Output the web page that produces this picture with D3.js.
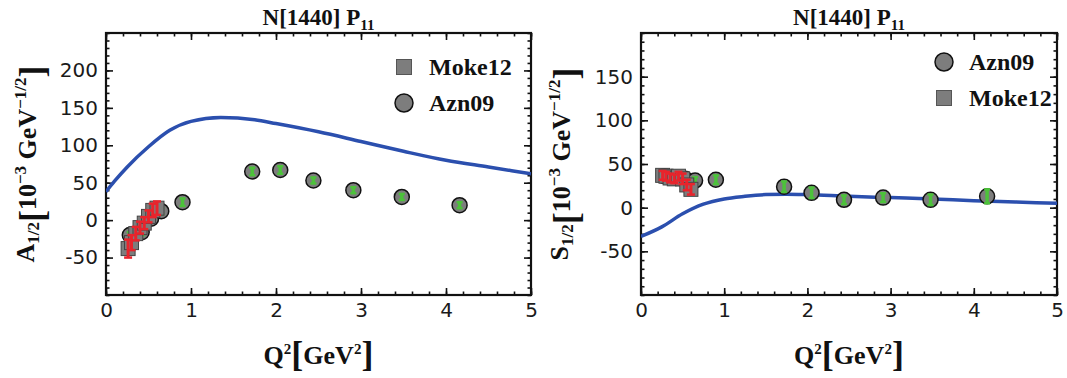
<!DOCTYPE html>
<html>
<head>
<meta charset="utf-8">
<script src="https://cdn.jsdelivr.net/npm/d3@7"></script>
<style>
  body { margin: 0; background: #fff; }
  svg { display: block; }
</style>
</head>
<body>
<div id="chart"></div>
<script>
// ---- data ----
const xTicks = [0, 1, 2, 3, 4, 5];
const yTicksA = [-50, 0, 50, 100, 150, 200];
const yTicksS = [-50, 0, 50, 100, 150];

// Azn09 (CLAS 2009)
const aznQ2 = [0.28, 0.42, 0.53, 0.65, 0.90, 1.72, 2.05, 2.44, 2.91, 3.48, 4.16];
const aznA  = [-20, -16, 2, 12, 24, 65, 67, 53, 40, 31, 20];
const aznAerr = [4, 4, 4, 4, 5, 5, 5, 4, 4, 4, 4];
const aznS  = [36, 34, 33, 31, 32, 24, 17, 9, 11.5, 9, 13];
const aznSerr = [4, 4, 4, 4, 5, 6, 6, 5, 5, 6, 8];

// Moke12
const mokQ2 = [0.26, 0.30, 0.35, 0.40, 0.45, 0.50, 0.55, 0.60];
const mokA  = [-38, -30, -18, -10, -4, 5, 13, 16];
const mokAerr = [12, 10, 9, 8, 8, 8, 9, 9];
const mokS  = [37, 36, 34, 33, 36, 33, 26, 21];
const mokSerr = [5, 5, 5, 5, 5, 6, 6, 6];

// model curves
const curveQ2A = [0, 0.1, 0.25, 0.5, 0.75, 1.0, 1.35, 1.75, 2.0, 2.5, 3.0, 3.5, 4.0, 4.5, 5.0];
const curveA   = [38, 52, 71, 98, 120, 132, 137, 134, 129, 118, 105, 92, 80, 71, 62];
const curveQ2S = [0, 0.25, 0.5, 0.75, 1.0, 1.25, 1.5, 1.75, 2.0, 2.5, 3.0, 3.5, 4.0, 4.5, 5.0];
const curveS   = [-33, -22, -7, 4, 10, 13, 15, 15.5, 15, 13, 11.5, 10, 8, 6.5, 5];

const W = 1067, H = 378;
const serif = "'Liberation Serif', 'Times New Roman', serif";
const sans = "'DejaVu Sans', Verdana, sans-serif";
const blue = "#2b4fae";
const green = "#4cc23a";
const red = "#e8242c";
const grey = "#7d7d7d";

const svg = d3.select("#chart").append("svg")
    .attr("width", W)
    .attr("height", H);

function zip(xs, ys, es) {
    return xs.map((x, i) => ({x: x, y: ys[i], e: es ? es[i] : 0}));
}

function drawPanel(p) {
    let x = d3.scaleLinear().domain([0, 5]).range([p.left, p.right]);
    let y = d3.scaleLinear().domain(p.yDomain).range([p.bottom, p.top]);

    let g = svg.append("g");

    // clip for data
    let clipId = "clip" + p.id;
    svg.append("clipPath").attr("id", clipId)
        .append("rect")
        .attr("x", p.left).attr("y", p.top)
        .attr("width", p.right - p.left).attr("height", p.bottom - p.top);

    // ticks - major and minor, on all four sides, pointing inwards
    let minorX = d3.range(0, 5.001, 0.2);
    let minorY = d3.range(p.yDomain[0], p.yDomain[1] + 0.01, 10);

    let axes = [
        {ax: d3.axisBottom(x).tickValues(xTicks), tr: [0, p.bottom], lab: true},
        {ax: d3.axisTop(x).tickValues(xTicks), tr: [0, p.top], lab: false},
        {ax: d3.axisLeft(y).tickValues(p.yTicks), tr: [p.left, 0], lab: true},
        {ax: d3.axisRight(y).tickValues(p.yTicks), tr: [p.right, 0], lab: false}
    ];
    axes.forEach(a => {
        let ag = g.append("g")
            .attr("transform", "translate(" + a.tr[0] + "," + a.tr[1] + ")")
            .call(a.ax.tickSizeInner(-7).tickSizeOuter(0).tickPadding(8)
                .tickFormat(a.lab ? (d => d) : ""));
        ag.select(".domain").remove();
        ag.selectAll("line").attr("stroke", "#111").attr("stroke-width", 1.6);
        ag.selectAll("text")
            .attr("font-family", sans)
            .attr("font-size", 20)
            .attr("fill", "#1a1a1a");
    });

    let minors = [
        {ax: d3.axisBottom(x).tickValues(minorX), tr: [0, p.bottom]},
        {ax: d3.axisTop(x).tickValues(minorX), tr: [0, p.top]},
        {ax: d3.axisLeft(y).tickValues(minorY), tr: [p.left, 0]},
        {ax: d3.axisRight(y).tickValues(minorY), tr: [p.right, 0]}
    ];
    minors.forEach(a => {
        let ag = g.append("g")
            .attr("transform", "translate(" + a.tr[0] + "," + a.tr[1] + ")")
            .call(a.ax.tickSizeInner(-3.5).tickSizeOuter(0).tickFormat(""));
        ag.select(".domain").remove();
        ag.selectAll("line").attr("stroke", "#111").attr("stroke-width", 1.6);
    });

    // frame
    g.append("rect")
        .attr("x", p.left).attr("y", p.top)
        .attr("width", p.right - p.left).attr("height", p.bottom - p.top)
        .attr("fill", "none")
        .attr("stroke", "#111")
        .attr("stroke-width", 2.2);

    let data = g.append("g").attr("clip-path", "url(#" + clipId + ")");

    // model curve
    data.append("path")
        .datum(zip(p.curveX, p.curveY))
        .attr("fill", "none")
        .attr("stroke", blue)
        .attr("stroke-width", 3.5)
        .attr("d", d3.line().x(d => x(d.x)).y(d => y(d.y)).curve(d3.curveMonotoneX));

    function errorBars(sel, pts, color, w, cap) {
        sel.selectAll(null).data(pts).enter().append("line")
            .attr("x1", d => x(d.x)).attr("x2", d => x(d.x))
            .attr("y1", d => y(d.y - d.e)).attr("y2", d => y(d.y + d.e))
            .attr("stroke", color).attr("stroke-width", w);
        [-1, 1].forEach(s => {
            sel.selectAll(null).data(pts).enter().append("line")
                .attr("x1", d => x(d.x) - cap).attr("x2", d => x(d.x) + cap)
                .attr("y1", d => y(d.y + s * d.e)).attr("y2", d => y(d.y + s * d.e))
                .attr("stroke", color).attr("stroke-width", 2.5);
        });
    }

    let azn = zip(aznQ2, p.aznY, p.aznE);
    let mok = zip(mokQ2, p.mokY, p.mokE);

    data.selectAll(null).data(azn).enter().append("circle")
        .attr("cx", d => x(d.x)).attr("cy", d => y(d.y))
        .attr("r", 7.5)
        .attr("fill", grey)
        .attr("stroke", "#111")
        .attr("stroke-width", 1.5);
    errorBars(data, azn, green, 3.5, 3);

    data.selectAll(null).data(mok).enter().append("rect")
        .attr("x", d => x(d.x) - 7).attr("y", d => y(d.y) - 7)
        .attr("width", 14).attr("height", 14)
        .attr("fill", grey)
        .attr("stroke", "#444")
        .attr("stroke-width", 1);
    errorBars(data, mok, red, 3, 4);

    // title
    let t = svg.append("text")
        .attr("x", (p.left + p.right) / 2)
        .attr("y", 25)
        .attr("text-anchor", "middle")
        .attr("font-family", serif)
        .attr("font-weight", "bold")
        .attr("font-size", 23)
        .attr("fill", "#111");
    t.append("tspan").text("N[1440] P");
    t.append("tspan").attr("font-size", 15).attr("dy", 5).text("11");

    // x label
    let xl = svg.append("text")
        .attr("x", (p.left + p.right) / 2)
        .attr("y", 364)
        .attr("text-anchor", "middle")
        .attr("font-family", serif)
        .attr("font-weight", "bold")
        .attr("font-size", 26)
        .attr("fill", "#111");
    xl.append("tspan").text("Q");
    xl.append("tspan").attr("font-size", 15).attr("dy", -10).text("2");
    xl.append("tspan").attr("font-size", 36).attr("dy", 12).text("[");
    xl.append("tspan").attr("dy", -2).text("GeV");
    xl.append("tspan").attr("font-size", 15).attr("dy", -10).text("2");
    xl.append("tspan").attr("font-size", 36).attr("dy", 12).text("]");

    // y label
    let yl = svg.append("text")
        .attr("transform", "translate(" + p.ylabX + "," + ((p.top + p.bottom) / 2) + ") rotate(-90)")
        .attr("text-anchor", "middle")
        .attr("font-family", serif)
        .attr("font-weight", "bold")
        .attr("font-size", 26)
        .attr("fill", "#111");
    yl.append("tspan").text(p.ylabSym);
    yl.append("tspan").attr("font-size", 17).attr("dy", 5).text("1/2");
    yl.append("tspan").attr("font-size", 36).attr("dy", 5).text("[");
    yl.append("tspan").attr("dy", -8).text("10");
    yl.append("tspan").attr("font-size", 17).attr("dy", -10).text("\u22123");
    yl.append("tspan").attr("dy", 10).text(" GeV");
    yl.append("tspan").attr("font-size", 17).attr("dy", -10).text("\u22121/2");
    yl.append("tspan").attr("font-size", 36).attr("dy", 18).text("]");

    // legend
    let lg = svg.append("g");
    p.legend.forEach((name, i) => {
        let cy = p.legY + i * 36;
        if (name === "Moke12") {
            lg.append("rect")
                .attr("x", p.legX - 7.5).attr("y", cy - 7.5)
                .attr("width", 15).attr("height", 15)
                .attr("fill", grey).attr("stroke", "#555").attr("stroke-width", 1);
        } else {
            lg.append("circle")
                .attr("cx", p.legX).attr("cy", cy).attr("r", 9)
                .attr("fill", grey).attr("stroke", "#111").attr("stroke-width", 1.5);
        }
        lg.append("text")
            .attr("x", p.legX + 25).attr("y", cy + 8)
            .attr("font-family", serif)
            .attr("font-weight", "bold")
            .attr("font-size", 24)
            .attr("fill", "#111")
            .text(name);
    });
}

drawPanel({
    id: "A", left: 106, right: 531, top: 33, bottom: 295,
    yDomain: [-100, 250], yTicks: yTicksA,
    curveX: curveQ2A, curveY: curveA,
    aznY: aznA, aznE: aznAerr, mokY: mokA, mokE: mokAerr,
    ylabSym: "A", ylabX: 34,
    legend: ["Moke12", "Azn09"], legX: 404, legY: 67
});

drawPanel({
    id: "S", left: 641, right: 1057, top: 33, bottom: 295,
    yDomain: [-100, 200], yTicks: yTicksS,
    curveX: curveQ2S, curveY: curveS,
    aznY: aznS, aznE: aznSerr, mokY: mokS, mokE: mokSerr,
    ylabSym: "S", ylabX: 568,
    legend: ["Azn09", "Moke12"], legX: 944, legY: 62
});
</script>
</body>
</html>
